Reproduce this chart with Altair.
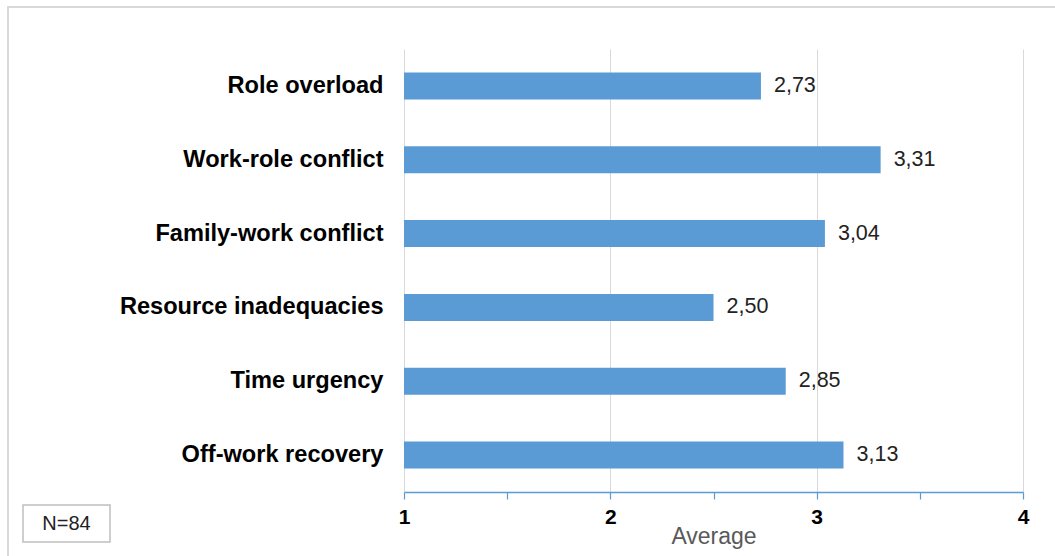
import altair as alt
import pandas as pd

categories = ["Role overload", "Work-role conflict", "Family-work conflict",
              "Resource inadequacies", "Time urgency", "Off-work recovery"]
values = [2.73, 3.31, 3.04, 2.50, 2.85, 3.13]
tick_values = [1, 1.5, 2, 2.5, 3, 3.5, 4]
note_text = ["N=84"]

df = pd.DataFrame({"category": categories, "value": values})
note_df = pd.DataFrame({"note": note_text})
frame_df = pd.DataFrame({"k": [0]})

FONT = "Liberation Sans, Arial, sans-serif"
BLUE = "#5b9bd5"
W, H = 619, 443
LEFT, TOP, RIGHT, BOTTOM = 404, 49, 32, 64

x_enc = alt.X(
    "value:Q",
    scale=alt.Scale(domain=[1, 4], nice=False, zero=False),
    axis=alt.Axis(
        values=tick_values,
        title="Average",
        format=".0f",
        labelExpr="datum.value % 1 === 0 ? datum.label : ''",
        labelFontSize=21,
        labelFontWeight="bold",
        labelColor="#000000",
        labelFlush=False,
        labelPadding=7,
        tickSize=7,
        tickColor=BLUE,
        domainColor=BLUE,
        domainWidth=1.5,
        tickWidth=1.2,
        grid=True,
        gridColor="#d9d9d9",
        gridOpacity={"condition": {"test": "datum.value % 1 !== 0", "value": 0}, "value": 1},
        titleFontSize=23,
        titleFontWeight="normal",
        titleColor="#595959",
        titleY=51,
        titleBaseline="alphabetic",
    ),
)

y_enc = alt.Y(
    "category:N",
    sort=categories,
    scale=alt.Scale(paddingInner=0.635, paddingOuter=0.3175),
    axis=alt.Axis(
        title=None,
        domain=False,
        ticks=False,
        labelFontSize=23.6,
        labelFontWeight="bold",
        labelColor="#000000",
        labelPadding=21,
        labelLimit=400,
    ),
)

bars = alt.Chart(df).mark_bar(color=BLUE).encode(
    x=x_enc,
    x2=alt.datum(1),
    y=y_enc,
)

labels = alt.Chart(df).transform_calculate(
    lbl="replace(format(datum.value, '.2f'), '.', ',')"
).mark_text(align="left", baseline="middle", dx=13, fontSize=21.5, color="#222222").encode(
    x=alt.X("value:Q"),
    y=alt.Y("category:N", sort=categories),
    text="lbl:N",
)

note_box = alt.Chart(note_df).mark_rect(fill="white", stroke="#bfbfbf", strokeWidth=1.5).encode(
    x=alt.value(23 - LEFT), x2=alt.value(110 - LEFT),
    y=alt.value(505 - TOP), y2=alt.value(542 - TOP),
)
note_txt = alt.Chart(note_df).mark_text(align="center", baseline="middle", fontSize=20, color="#222222").encode(
    x=alt.value(66.5 - LEFT), y=alt.value(524 - TOP), text="note:N",
)

border = alt.Chart(frame_df).mark_rect(fill=None, stroke="#d9d9d9", strokeWidth=2).encode(
    x=alt.value(8 - LEFT), x2=alt.value(1070 - LEFT),
    y=alt.value(7 - TOP), y2=alt.value(570 - TOP),
)

chart = alt.layer(border, bars, labels, note_box, note_txt).properties(
    width=W, height=H,
    autosize=alt.AutoSizeParams(type="none"),
    padding={"left": LEFT, "top": TOP, "right": RIGHT, "bottom": BOTTOM},
    background="white",
).configure(font=FONT).configure_view(stroke=None)

chart.save("out.html", embed_options={"renderer": "svg", "actions": False})
